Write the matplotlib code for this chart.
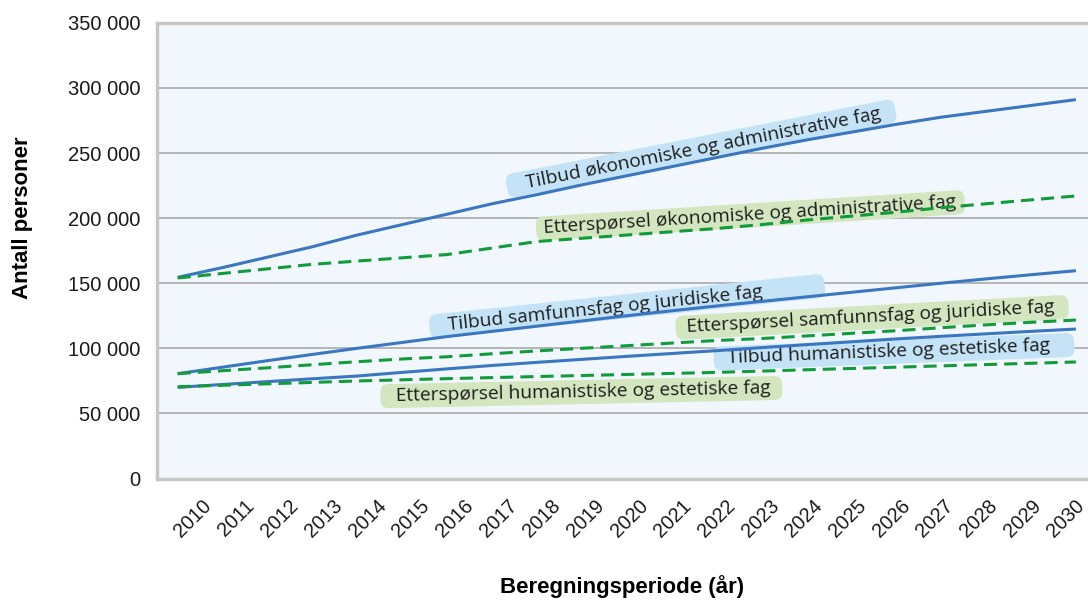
import matplotlib
matplotlib.use("Agg")
import matplotlib.pyplot as plt
import matplotlib.transforms as mtransforms
from matplotlib.patches import BoxStyle
from matplotlib.ticker import FuncFormatter

# ---------------- data ----------------
years = list(range(2010, 2031))

tilbud_okonomi = [154.5, 162, 170, 178, 187, 195, 203, 211, 218, 225.5, 232.5,
                  239.5, 246.5, 253.5, 260, 266, 272, 277.5, 282, 286.5, 291]
ettersp_okonomi = [154, 157.5, 161, 164.5, 167, 169.5, 172, 177, 182, 184.5, 187,
                   189.5, 192, 195, 198.5, 201.5, 204.5, 208, 211, 214, 217]
tilbud_samfunn = [80.5, 85.5, 90.5, 95.3, 100, 104.5, 109, 113, 117, 121, 125,
                  128.8, 132.5, 136, 139.5, 143, 146.5, 150, 153.3, 156.5, 159.6]
ettersp_samfunn = [80.5, 82.8, 85, 87.4, 89.7, 91.8, 93.5, 95.8, 98, 100, 102,
                   104, 106, 107.5, 109.5, 111.5, 113.5, 115.8, 118, 120, 121.7]
tilbud_human = [70, 72.2, 74.4, 76.6, 78.7, 81.5, 84.2, 86.8, 89.2, 91.5, 93.8,
                96, 98.2, 100.5, 102.8, 105, 107.2, 109.2, 111.1, 113, 114.8]
ettersp_human = [70.5, 71.6, 72.7, 73.8, 74.9, 75.8, 76.7, 77.5, 78.3, 79.1, 79.9,
                 80.7, 81.5, 82.5, 83.5, 84.5, 85.5, 86.5, 87.5, 88.5, 89.5]

label_texts = ["Tilbud økonomiske og administrative fag",
               "Etterspørsel økonomiske og administrative fag",
               "Tilbud samfunnsfag og juridiske fag",
               "Etterspørsel samfunnsfag og juridiske fag",
               "Tilbud humanistiske og estetiske fag",
               "Etterspørsel humanistiske og estetiske fag"]
label_x = [2021.71, 2022.73, 2019.53, 2025.43, 2025.84, 2019.02]
label_y = [253.8, 202.0, 130.6, 123.7, 97.2, 66.4]

y_ticks = [0, 50000, 100000, 150000, 200000, 250000, 300000, 350000]
x_title = "Beregningsperiode (år)"
y_title = "Antall personer"

# ---------------- style ----------------
plt.rcParams['font.family'] = ['Liberation Sans', 'DejaVu Sans']
BLUE = '#3a77c0'
GREEN = '#129b3b'
BOX_BLUE = '#c4e3f7'
BOX_GREEN = '#d3e6bf'
LABEL_FONT = 13.8

label_rot = [11.1, 3.6, 6.0, 3.1, 2.2, 1.2]
label_fc = [BOX_BLUE, BOX_GREEN, BOX_BLUE, BOX_GREEN, BOX_BLUE, BOX_GREEN]
# left / right padding in pixels
label_pad = [(20, 15), (7, 9), (19, 62), (11, 14), (14, 24), (15, 12)]


def make_box(left_px, right_px, vert_em=0.16, round_em=0.42):
    em_px = LABEL_FONT * 100 / 72.0
    l_em, r_em = left_px / em_px, right_px / em_px
    rounder = BoxStyle.Round(pad=0, rounding_size=round_em)

    def box(x0, y0, width, height, mutation_size):
        l = l_em * mutation_size
        r = r_em * mutation_size
        v = vert_em * mutation_size
        return rounder(x0 - l, y0 - v, width + l + r, height + 2 * v, mutation_size)
    return box


fig = plt.figure(figsize=(10.88, 6.0), dpi=100)
ax = fig.add_axes([157 / 1088, 1 - 478.5 / 600, (1088 - 157) / 1088, (478.5 - 22.8) / 600])
ax.set_facecolor('#f2f7fd')
ax.set_xlim(2009.54, 2030.27)
ax.set_ylim(0, 350000)

ax.set_yticks(y_ticks)
ax.yaxis.set_major_formatter(FuncFormatter(lambda v, p: f"{int(v):,}".replace(",", " ")))
ax.set_xticks(years)
ax.set_xticklabels([str(y) for y in years], rotation=45, ha='center', va='top', fontsize=14.3)
ax.tick_params(axis='x', length=0, pad=13, colors='#1a1a1a')
ax.tick_params(axis='y', length=0, pad=12, labelsize=14.5, colors='#1a1a1a')
n_lab = len(years)
for i, lab in enumerate(ax.get_xticklabels()):
    dx = (15 - 25 * i / (n_lab - 1)) / 100.0
    lab.set_transform(lab.get_transform() + mtransforms.ScaledTranslation(dx, 0, fig.dpi_scale_trans))

ax.grid(axis='y', color='#a9a9a9', lw=1.2)
ax.grid(axis='x', visible=False)
ax.set_axisbelow(True)
for s in ['left', 'top', 'bottom']:
    ax.spines[s].set_color('#c6c6c6')
    ax.spines[s].set_linewidth(2.4)
ax.spines['right'].set_visible(False)

series = [(tilbud_okonomi, BLUE, None), (ettersp_okonomi, GREEN, (4.3, 2.3)),
          (tilbud_samfunn, BLUE, None), (ettersp_samfunn, GREEN, (4.3, 2.3)),
          (tilbud_human, BLUE, None), (ettersp_human, GREEN, (4.3, 2.3))]
for vals, col, dash in series:
    yv = [v * 1000 for v in vals]
    if dash is None:
        ax.plot(years, yv, color=col, lw=2.2, zorder=4, solid_capstyle='butt')
    else:
        ax.plot(years, yv, color=col, lw=2.2, zorder=4, dashes=dash)

for txt, x, y, rot, fc, (pl, pr) in zip(label_texts, label_x, label_y, label_rot, label_fc, label_pad):
    ax.text(x, y * 1000, txt, rotation=rot, rotation_mode='anchor', ha='center', va='center',
            fontsize=LABEL_FONT, family=['Open Sans', 'DejaVu Sans'], color='#1e1e1e', zorder=3,
            bbox=dict(boxstyle=make_box(pl, pr), fc=fc, ec='none'))

ax.set_xlabel(x_title, fontsize=16, fontweight='bold', va='center')
ax.xaxis.set_label_coords(0.5, -0.238)
ax.set_ylabel(y_title, fontsize=16, fontweight='bold', va='center')
ax.yaxis.set_label_coords(-0.145, 0.572)

fig.savefig('out.png', dpi=100)
